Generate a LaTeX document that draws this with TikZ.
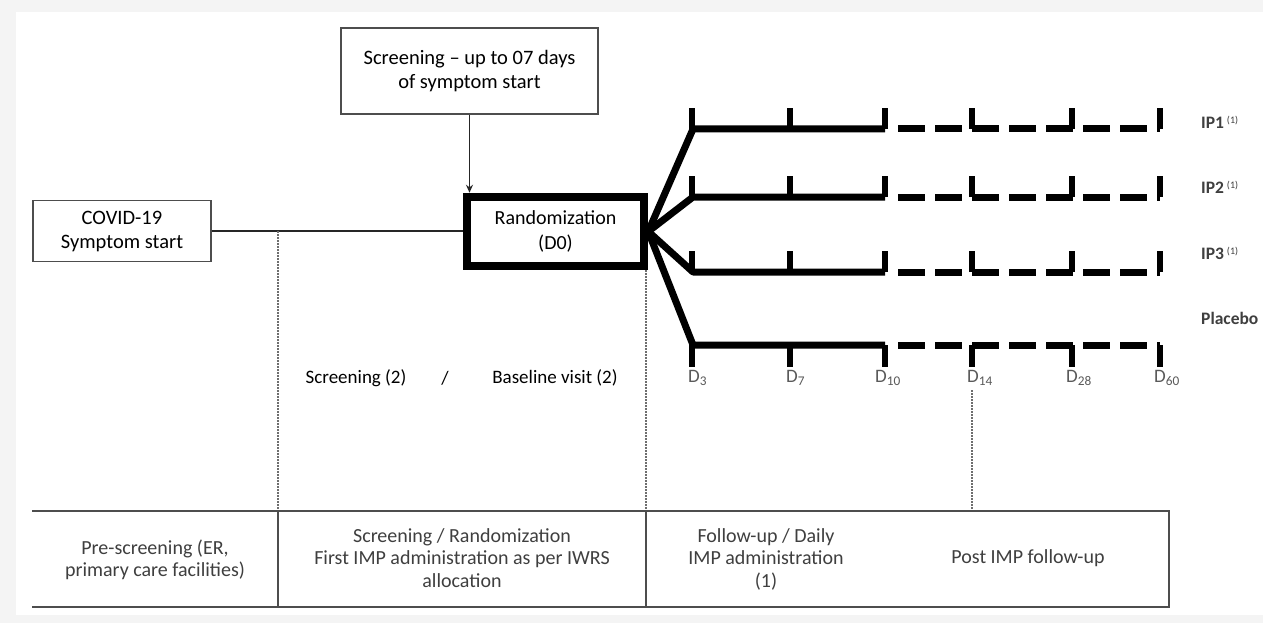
\documentclass[tikz,border=0pt]{standalone}
\usepackage{fontspec}
\setmainfont{Carlito}
\usetikzlibrary{arrows.meta}
\definecolor{bordergray}{HTML}{4D4D4D}
\definecolor{textgray}{HTML}{3F3F3F}
\definecolor{bggray}{HTML}{F4F4F4}
\definecolor{dotgray}{HTML}{6E6E6E}
\definecolor{daygray}{HTML}{5A5A5A}
\begin{document}
\begin{tikzpicture}[x=1pt,y=-1pt,
  box/.style={draw=bordergray, line width=1.3pt, align=center, inner sep=0pt,
    font=\fontsize{20.5}{24}\selectfont, text=black},
  randbox/.style={draw=black, line width=8.5pt, align=center, inner sep=0pt,
    font=\fontsize{20}{25}\selectfont, text=black},
  thinline/.style={line width=1.3pt, draw=black!85},
  thickline/.style={line width=7pt, line join=round},
  tickmark/.style={line width=6pt},
  dashline/.style={line width=7pt, dash pattern=on 27pt off 10pt},
  dotline/.style={draw=dotgray, line width=1.2pt, dash pattern=on 1.5pt off 1.5pt},
  tableline/.style={draw=bordergray, line width=1.5pt},
  cell/.style={align=center, text=textgray, inner sep=0pt, font=\fontsize{20}{22.5}\selectfont},
  daylbl/.style={anchor=west, text=daygray, inner sep=0pt, font=\fontsize{19}{19}\selectfont},
  armlbl/.style={anchor=west, text=textgray, inner sep=0pt, font=\bfseries\fontsize{17.5}{17.5}\selectfont},
  midlbl/.style={text=black, inner sep=0pt, font=\fontsize{19}{19}\selectfont},
]
% background and margins
\fill[bggray] (0,0) rectangle (1263,623);
\fill[white] (16,12) rectangle (1263,615);
\useasboundingbox (0,0) rectangle (1263,623);

% boxes
\node[box, minimum width=257pt, minimum height=86pt] (scr) at (469.5,71)
  {Screening \textendash\ up to 07 days\\of symptom start};
\node[box, minimum width=178pt, minimum height=61pt] (covid) at (122,231)
  {COVID-19\\Symptom start};
\node[randbox, minimum width=177pt, minimum height=69pt] (rand) at (555.5,231.5)
  {Randomization\\(D0)};

% connectors
\draw[thinline, -{Stealth[length=8pt,width=7pt]}] (scr.south) -- (scr.south |- rand.north);
\draw[thinline] (covid.east) -- (covid.east -| rand.west);

% arms
\coordinate (a1) at (693,129); \coordinate (e1) at (885,129);
\coordinate (a2) at (693,197); \coordinate (e2) at (885,197);
\coordinate (a3) at (693,272); \coordinate (e3) at (885,272);
\coordinate (a4) at (693,345); \coordinate (e4) at (885,345);
\foreach \i in {1,2,3,4} {
  \draw[thickline] (rand.east) -- (a\i) -- (e\i);
}
\foreach \y in {129,197,272,345} {
  \coordinate (ds) at (898,\y);
  \coordinate (de) at (1160,\y);
  \draw[dashline] (ds) -- (de);
}
\foreach \y in {129,197,272} {
  \foreach \x in {692,790,885,972,1072,1160} {
    \draw[tickmark] (\x,\y) -- (\x,\y-21);
  }
}
\foreach \x in {692,790,885,972,1072,1160} {
  \draw[tickmark] (\x,345) -- (\x,367);
}

% arm labels
\node[armlbl] (lip1) at (1201,122) {IP1\,\raisebox{5pt}{\mdseries\fontsize{10}{10}\selectfont(1)}};
\node[armlbl] (lip2) at (1201,187) {IP2\,\raisebox{5pt}{\mdseries\fontsize{10}{10}\selectfont(1)}};
\node[armlbl] (lip3) at (1201,253) {IP3\,\raisebox{5pt}{\mdseries\fontsize{10}{10}\selectfont(1)}};
\node[armlbl] (lpl) at (1201,318) {Placebo};

% day labels
\node[daylbl] (d3) at (688,378) {D\textsubscript{3}};
\node[daylbl] (d7) at (786,378) {D\textsubscript{7}};
\node[daylbl] (d10) at (875,378) {D\textsubscript{10}};
\node[daylbl] (d14) at (967,378) {D\textsubscript{14}};
\node[daylbl] (d28) at (1066,378) {D\textsubscript{28}};
\node[daylbl] (d60) at (1154,378) {D\textsubscript{60}};

% screening / baseline labels
\node[midlbl] (sl) at (356,378) {Screening (2)};
\node[midlbl] (slash) at (445,378) {/};
\node[midlbl] (bl) at (555,378) {Baseline visit (2)};

% dotted separators
\coordinate (p1) at (278,231); \coordinate (q1) at (278,511);
\coordinate (p2) at (646,270); \coordinate (q2) at (646,511);
\coordinate (p3) at (972,390); \coordinate (q3) at (972,511);
\draw[dotline] (p1) -- (q1);
\draw[dotline] (p2) -- (q2);
\draw[dotline] (p3) -- (q3);

% bottom table
\draw[tableline] (32,511) -- (1169,511) -- (1169,607) -- (32,607);
\draw[tableline] (278,511) -- (278,607);
\draw[tableline] (646,511) -- (646,607);
\node[cell] (c1) at (155,560) {Pre-screening (ER,\\primary care facilities)};
\node[cell] (c2) at (462,558) {Screening / Randomization\\First IMP administration as per IWRS\\allocation};
\node[cell] (c3) at (766,559) {Follow-up / Daily\\IMP administration\\(1)};
\node[cell] (c4) at (1028,558) {Post IMP follow-up};
\end{tikzpicture}
\end{document}
